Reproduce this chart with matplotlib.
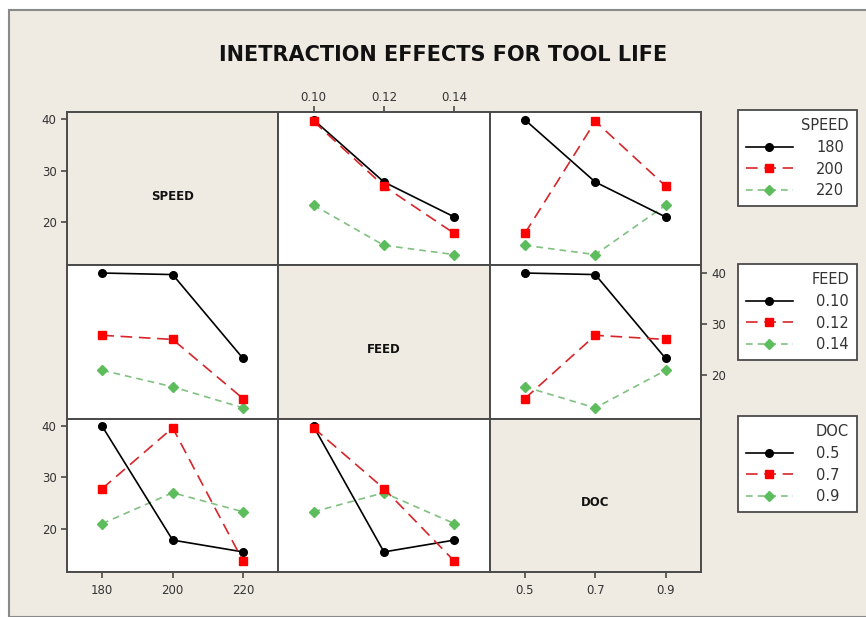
import matplotlib
matplotlib.use("Agg")
import matplotlib.pyplot as plt
from matplotlib.patches import Rectangle

# factor levels
speed_levels = [180, 200, 220]
feed_levels = [0.10, 0.12, 0.14]
doc_levels = [0.5, 0.7, 0.9]

speed_labels = ["180", "200", "220"]
feed_labels = ["0.10", "0.12", "0.14"]
doc_labels = ["0.5", "0.7", "0.9"]

# tool life (one list per trace level)
# row 0: traces = SPEED
speed_vs_feed = {180: [39.9, 27.8, 21.0], 200: [39.6, 27.0, 17.8], 220: [23.3, 15.5, 13.7]}
speed_vs_doc = {180: [39.9, 27.8, 21.0], 200: [17.8, 39.6, 27.0], 220: [15.5, 13.7, 23.3]}
# row 1: traces = FEED
feed_vs_speed = {0.10: [39.9, 39.6, 23.3], 0.12: [27.8, 27.0, 15.5], 0.14: [21.0, 17.8, 13.7]}
feed_vs_doc = {0.10: [39.9, 39.6, 23.3], 0.12: [15.5, 27.8, 27.0], 0.14: [17.8, 13.7, 21.0]}
# row 2: traces = DOC
doc_vs_speed = {0.5: [39.9, 17.8, 15.5], 0.7: [27.8, 39.6, 13.7], 0.9: [21.0, 27.0, 23.3]}
doc_vs_feed = {0.5: [39.9, 15.5, 17.8], 0.7: [39.6, 27.8, 13.7], 0.9: [23.3, 27.0, 21.0]}

y_ticks = [20, 30, 40]

BEIGE = "#efebe3"
EDGE = "#4a4a4a"
TXT = "#333333"

# black circle, red square, green diamond
styles = [
    dict(color="black", marker="o", ms=5.5, lw=1.2, ls="-", mfc="black", mec="black", zorder=3),
    dict(color="#d8252a", marker="s", ms=5.5, lw=1.2, ls=(0, (7, 4)), mfc="#ff0000", mec="#ff0000", zorder=4),
    dict(color="#80c080", marker="D", ms=5, lw=1.2, ls=(0, (4, 3)), mfc="#5dbd5d", mec="#5dbd5d", zorder=2),
]

W, H = 866, 617
fig = plt.figure(figsize=(W / 100, H / 100), dpi=100, facecolor="white")
fig.patches.append(Rectangle((9 / W, 0), 1, 1 - 10 / H, transform=fig.transFigure,
                             facecolor=BEIGE, edgecolor="#8a8a8a", lw=1.5, zorder=-5))

fig.text(443 / W, 1 - 55 / H, "INETRACTION EFFECTS FOR TOOL LIFE", ha="center", va="center",
         fontsize=15, fontweight="bold", color="#111111")

col_x = [67, 278.3, 489.6]
col_w = 211.3
row_y = [112, 265.3, 418.6]
row_h = 153.4

levels = [speed_levels, feed_levels, doc_levels]
tick_labels = [speed_labels, feed_labels, doc_labels]
names = ["SPEED", "FEED", "DOC"]
panels = {
    (0, 1): speed_vs_feed, (0, 2): speed_vs_doc,
    (1, 0): feed_vs_speed, (1, 2): feed_vs_doc,
    (2, 0): doc_vs_speed, (2, 1): doc_vs_feed,
}

handles = {}
for r in range(3):
    for c in range(3):
        ax = fig.add_axes([col_x[c] / W, 1 - (row_y[r] + row_h) / H, col_w / W, row_h / H])
        lv = levels[c]
        step = lv[1] - lv[0]
        ax.set_xlim(lv[0] - step / 2, lv[-1] + step / 2)
        ax.set_ylim(11.6, 41.4)
        for s in ax.spines.values():
            s.set_color(EDGE)
            s.set_linewidth(1.4)
        ax.tick_params(axis="both", which="both", left=False, right=False, top=False, bottom=False,
                       labelleft=False, labelbottom=False, direction="out", length=4,
                       colors=EDGE, labelcolor=TXT, labelsize=8.5, width=1.2)
        ax.set_xticks(lv)
        ax.set_xticklabels(tick_labels[c])
        ax.set_yticks(y_ticks)
        if r == c:
            ax.set_facecolor(BEIGE)
            ax.text(0.5, 0.45, names[r], transform=ax.transAxes, ha="center", va="center",
                    fontsize=8.5, fontweight="bold", color="#111111")
        else:
            ax.set_facecolor("white")
            data = panels[(r, c)]
            hs = []
            for k, (lev, vals) in enumerate(data.items()):
                (h,) = ax.plot(lv, vals, label=tick_labels[r][k], **styles[k])
                hs.append(h)
            handles[r] = hs
        # outer axes, Minitab style
        if c == 0 and r in (0, 2):
            ax.tick_params(axis="y", left=True, labelleft=True)
        if c == 2 and r == 1:
            ax.tick_params(axis="y", right=True, labelright=True)
        if r == 0 and c == 1:
            ax.tick_params(axis="x", top=True, labeltop=True, pad=2)
        if r == 2 and c in (0, 2):
            ax.tick_params(axis="x", bottom=True, labelbottom=True, pad=5)

leg_tops = [111, 265, 417]
for r in range(3):
    leg = fig.legend(handles=handles[r], title=names[r], loc="upper left",
                     bbox_to_anchor=(738 / W, 1 - leg_tops[r] / H, 119 / W, 0.001), mode="expand",
                     frameon=True, fancybox=False, fontsize=10.5, title_fontsize=10.5,
                     handlelength=3.2, handletextpad=1.6, labelspacing=0.45,
                     borderpad=0.55, borderaxespad=0, alignment="right")
    fr = leg.get_frame()
    fr.set_edgecolor(EDGE)
    fr.set_linewidth(1.3)
    fr.set_facecolor("white")
    fr.set_alpha(1)
    leg.get_title().set_color(TXT)
    for t in leg.get_texts():
        t.set_color(TXT)

fig.savefig("out.png", dpi=100, facecolor="white")
